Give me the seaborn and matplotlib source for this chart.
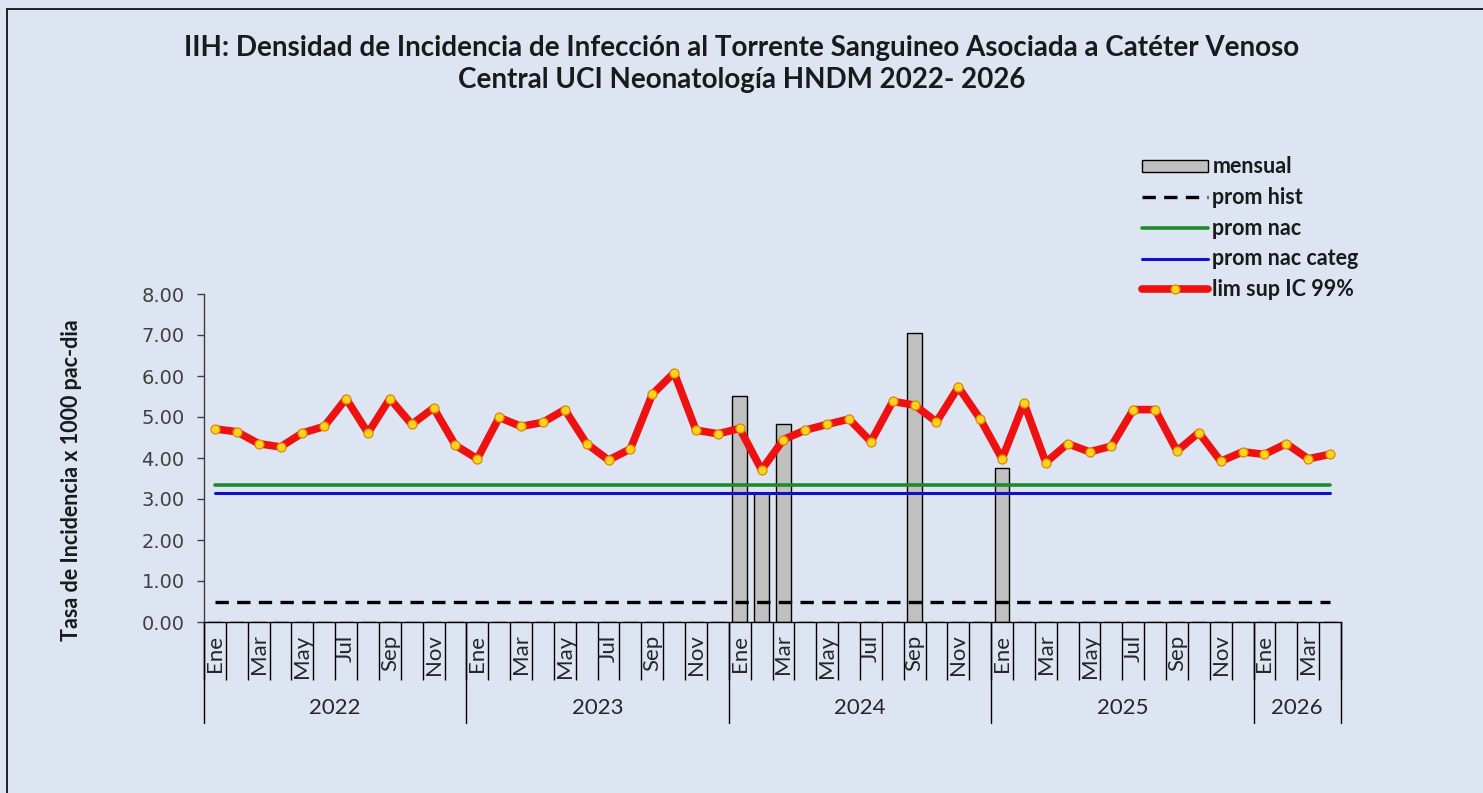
import numpy as np
import pandas as pd
import seaborn as sns
import matplotlib
matplotlib.use("Agg")
import matplotlib.pyplot as plt
from matplotlib.patches import Patch, Rectangle
from matplotlib.lines import Line2D
import matplotlib.transforms as mtrans

# ---------------- data ----------------
month_names = ["Ene", "Feb", "Mar", "Abr", "May", "Jun",
               "Jul", "Ago", "Sep", "Oct", "Nov", "Dic"]
years = [2022, 2023, 2024, 2025, 2026]
months_per_year = [12, 12, 12, 12, 4]

lim_sup = [4.71, 4.64, 4.35, 4.27, 4.61, 4.77, 5.45, 4.61, 5.45, 4.82, 5.22, 4.31,
           3.98, 4.99, 4.77, 4.87, 5.18, 4.35, 3.95, 4.22, 5.55, 6.08, 4.68, 4.59,
           4.72, 3.71, 4.45, 4.68, 4.82, 4.95, 4.40, 5.38, 5.29, 4.88, 5.73, 4.95,
           3.98, 5.34, 3.89, 4.35, 4.15, 4.29, 5.18, 5.18, 4.17, 4.62, 3.92, 4.15,
           4.09, 4.35, 3.98, 4.09]
mensual = [0, 0, 0, 0, 0, 0, 0, 0, 0, 0, 0, 0,
           0, 0, 0, 0, 0, 0, 0, 0, 0, 0, 0, 0,
           5.51, 3.15, 4.82, 0, 0, 0, 0, 0, 7.05, 0, 0, 0,
           3.75, 0, 0, 0, 0, 0, 0, 0, 0, 0, 0, 0,
           0, 0, 0, 0]
prom_hist = 0.49
prom_nac = 3.35
prom_nac_categ = 3.15

labels_month = []
labels_year = []
for y, n in zip(years, months_per_year):
    for m in range(n):
        labels_month.append(month_names[m])
        labels_year.append(y)
n = len(labels_month)

df = pd.DataFrame({
    "pos": np.arange(n),
    "mes": labels_month,
    "anio": labels_year,
    "mensual": mensual,
    "prom_hist": [prom_hist] * n,
    "prom_nac": [prom_nac] * n,
    "prom_nac_categ": [prom_nac_categ] * n,
    "lim_sup": lim_sup,
})

# ---------------- style ----------------
bg = "#dde5f2"
sns.set_theme(style="white")
plt.rcParams["font.family"] = ["Lato", "DejaVu Sans"]

fig = plt.figure(figsize=(14.83, 7.93), dpi=100, facecolor=bg)
ax = fig.add_axes([204 / 1483, 1 - 622 / 793, (1341 - 204) / 1483, (622 - 294) / 793])
ax.set_facecolor(bg)

# bars
sns.barplot(data=df, x="pos", y="mensual", native_scale=True, width=0.66,
            color="#c0c0c0", edgecolor="black", linewidth=1.0,
            saturation=1, errorbar=None, ax=ax, zorder=1)
# reference lines
sns.lineplot(data=df, x="pos", y="prom_hist", ax=ax, color="black",
             linewidth=2.4, linestyle=(0, (4, 2.5)), zorder=3)
sns.lineplot(data=df, x="pos", y="prom_nac", ax=ax, color="#1f8a2a",
             linewidth=2.6, zorder=3)
sns.lineplot(data=df, x="pos", y="prom_nac_categ", ax=ax, color="#1010cc",
             linewidth=2.2, zorder=3)
sns.lineplot(data=df, x="pos", y="lim_sup", ax=ax, color="#ee1111",
             linewidth=5.5, marker="o", markersize=6.5,
             markerfacecolor="#ffd21f", markeredgecolor="#d98a00",
             markeredgewidth=0.9, zorder=4)

ax.set_xlim(-0.5, n - 0.5)
ax.set_ylim(0, 8)
ax.set_xlabel("")
ax.set_ylabel("")

# y axis
ax.set_yticks(np.arange(0, 9, 1))
ax.set_yticklabels([f"{v:.2f}" for v in np.arange(0, 9, 1)],
                   fontsize=14, color="#404040", family="DejaVu Sans")
ax.tick_params(axis="y", which="major", direction="out", length=5,
               width=1, color="#404040", pad=9, left=True)

# x axis: month labels at every other month
ax.set_xticks(np.arange(n))
ax.set_xticklabels([lab if i % 2 == 0 else "" for i, lab in enumerate(labels_month)],
                   rotation=90, fontsize=16, color="#262626")
ax.tick_params(axis="x", which="major", length=0, pad=9, bottom=True)
ax.set_xticks(np.arange(-0.5, n, 1), minor=True)
ax.tick_params(axis="x", which="minor", direction="out", length=42, width=1,
               color="black", bottom=True)

for s in ["top", "right"]:
    ax.spines[s].set_visible(False)
ax.spines["left"].set_color("#404040")
ax.spines["bottom"].set_color("black")
ax.spines["left"].set_linewidth(1.0)
ax.spines["bottom"].set_linewidth(1.0)

# year separators and labels
trans = mtrans.blended_transform_factory(ax.transData, ax.transAxes)
start = 0
bounds = [-0.5]
for y, cnt in zip(years, months_per_year):
    center = start + (cnt - 1) / 2
    ax.text(center, -0.262, str(y), transform=trans, ha="center", va="center",
            fontsize=16, color="#262626")
    start += cnt
    bounds.append(start - 0.5)
for b in bounds:
    ax.plot([b, b], [0, -0.308], transform=trans, color="black", lw=1.0,
            clip_on=False)

# title
fig.text(741.5 / 1483, 1 - 48 / 793,
         "IIH: Densidad de Incidencia de Infección al Torrente Sanguineo Asociada a Catéter Venoso",
         ha="center", va="center", fontsize=20, fontweight="bold", color="#1a1a1a")
fig.text(741.5 / 1483, 1 - 80 / 793, "Central UCI Neonatología HNDM 2022- 2026",
         ha="center", va="center", fontsize=20, fontweight="bold", color="#1a1a1a")

# y label
fig.text(72 / 1483, 1 - 480 / 793, "Tasa de Incidencia x 1000 pac-dia",
         rotation=90, ha="center", va="center", fontsize=15.5, fontweight="bold",
         color="#1a1a1a")

# legend
handles = [
    Patch(facecolor="#c0c0c0", edgecolor="black", linewidth=1.0),
    Line2D([], [], color="black", linewidth=2.4, linestyle=(0, (4, 2.5))),
    Line2D([], [], color="#1f8a2a", linewidth=2.6),
    Line2D([], [], color="#1010cc", linewidth=2.2),
    Line2D([], [], color="#ee1111", linewidth=5.5, marker="o", markersize=6.5,
           markerfacecolor="#ffd21f", markeredgecolor="#d98a00", markeredgewidth=0.9),
]
labels = ["mensual", "prom hist", "prom nac", "prom nac categ", "lim sup IC 99%"]
leg = fig.legend(handles, labels, loc="upper left",
                 bbox_to_anchor=(1123 / 1483, 1 - 137 / 793),
                 frameon=False, handlelength=3.05, handleheight=0.5,
                 handletextpad=0.2, labelspacing=0.45, numpoints=1,
                 prop={"family": "Lato", "weight": "bold", "size": 15.5})
for t in leg.get_texts():
    t.set_color("#1a1a1a")

# outer frame
fig.add_artist(Rectangle((7 / 1483, -0.2), 1.5, 1.2 - 9 / 793,
                         transform=fig.transFigure, fill=False,
                         edgecolor="black", linewidth=1.2, clip_on=False))

fig.savefig("out.png", dpi=100, facecolor=bg)
